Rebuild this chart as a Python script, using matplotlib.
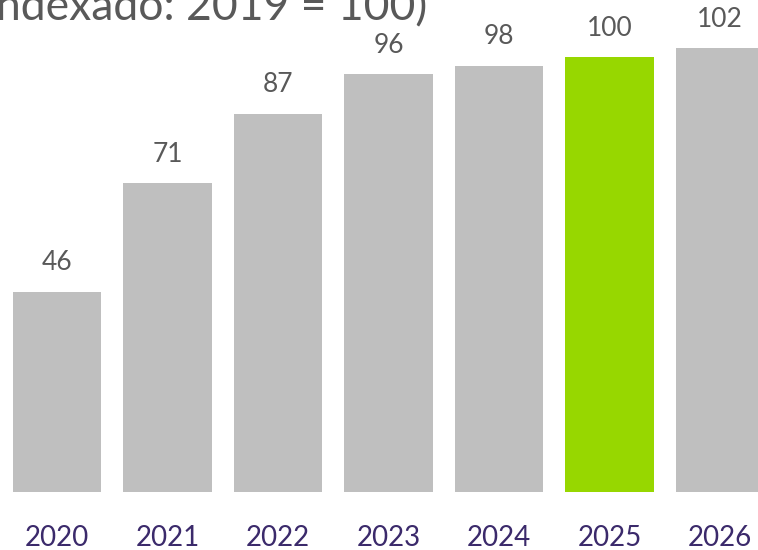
import numpy as np
import matplotlib.pyplot as plt

years = ['2020', '2021', '2022', '2023', '2024', '2025', '2026']
values = [46, 71, 87, 96, 98, 100, 102]
highlight = '2025'

plt.rcParams['font.family'] = ['Lato', 'DejaVu Sans']

fig = plt.figure(figsize=(7.58, 5.5), dpi=100)
ax = fig.add_axes([0, 58 / 550, 1, 492 / 550])

x = np.arange(len(years))
colors = ['#97d700' if y == highlight else '#bfbfbf' for y in years]
bars = ax.bar(x, values, width=0.8, color=colors)

# value labels above bars
for xi, v in zip(x, values):
    ax.annotate(str(v), (xi, v), xytext=(0, 29), textcoords='offset pixels',
                ha='center', va='center', fontsize=19, color='#595959')

ax.set_xlim(-57 / 110.5, (758 - 57) / 110.5)
ax.set_ylim(0, 492 / 4.35)
ax.set_xticks(x)
ax.set_xticklabels(years, fontsize=20, color='#3b2a6b')
ax.tick_params(axis='x', length=0, pad=24)
ax.set_yticks([])
for s in ax.spines.values():
    s.set_visible(False)

# title is clipped by the top/left edge in the original
fig.text(427 / 758, 1 - 20 / 550, 'ndexado: 2019 = 100)', ha='right', va='baseline',
         fontsize=32, color='#595959')

fig.savefig('out.png', dpi=100)
